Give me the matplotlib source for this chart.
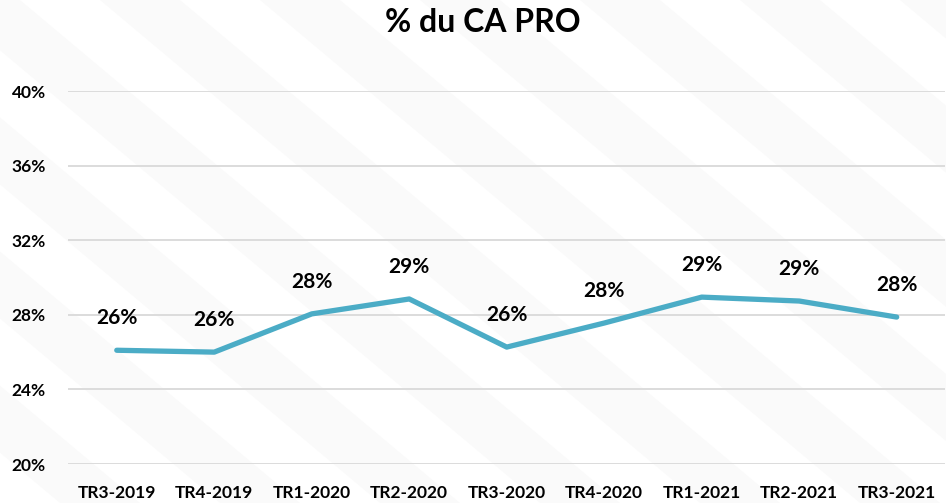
import matplotlib.pyplot as plt
from matplotlib.patches import Polygon
import numpy as np

categories = ["TR3-2019", "TR4-2019", "TR1-2020", "TR2-2020", "TR3-2020",
              "TR4-2020", "TR1-2021", "TR2-2021", "TR3-2021"]
values = [26.1, 26.0, 28.05, 28.85, 26.27, 27.56, 28.95, 28.74, 27.88]
labels = ["26%", "26%", "28%", "29%", "26%", "28%", "29%", "29%", "28%"]
yticks = [20, 24, 28, 32, 36, 40]

plt.rcParams["font.family"] = ["Lato", "DejaVu Sans"]
plt.rcParams["font.weight"] = "bold"

fig = plt.figure(figsize=(9.46, 5.03), dpi=100)

# faint diagonal stripes in the background
bg = fig.add_axes([0, 0, 1, 1], zorder=-1)
bg.set_xlim(0, 946)
bg.set_ylim(503, 0)
bg.axis("off")
for x0 in range(-700, 1000, 160):
    bg.add_patch(Polygon([(x0, 0), (x0 + 80, 0), (x0 + 80 + 600, 503), (x0 + 600, 503)],
                         closed=True, facecolor="#fafafa", edgecolor="none"))

ax = fig.add_axes([0.0719, 0.0775, 0.9275, 0.7415])
ax.patch.set_alpha(0)
x = np.arange(len(categories))
ax.plot(x, values, color="#4BACC6", lw=3.8, solid_capstyle="round",
        solid_joinstyle="round", zorder=3)
for xi, v, lab in zip(x, values, labels):
    ax.annotate(lab, (xi, v), xytext=(0, 16), textcoords="offset points",
                ha="center", va="bottom", fontsize=15, fontweight="bold")

ax.set_xlim(-0.5, len(categories) - 0.5)
ax.set_ylim(20, 40)
ax.set_yticks(yticks)
ax.set_yticklabels([f"{t}%" for t in yticks], fontsize=12.5, fontweight="bold")
ax.set_xticks(x)
ax.set_xticklabels(categories, fontsize=12.5, fontweight="bold")
ax.tick_params(length=0)
ax.tick_params(axis="x", pad=15)
ax.tick_params(axis="y", pad=16)
ax.grid(axis="y", color="#d9d9d9", lw=1.3)
ax.set_axisbelow(True)
for s in ax.spines.values():
    s.set_visible(False)

fig.text(0.51, 0.955, "% du CA PRO", ha="center", va="center",
         fontsize=23, fontweight="bold")

fig.savefig("out.png", dpi=100)
